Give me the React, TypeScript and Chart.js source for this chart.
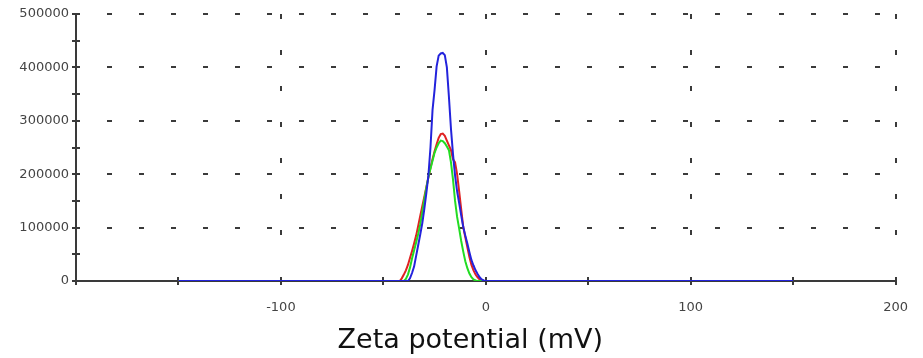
import React, { useEffect, useRef } from "react";
import { Chart, registerables } from "chart.js";

Chart.register(...registerables);

const zeta = [
  -150, -42, -41, -40, -39, -38, -37, -36, -35, -34, -33, -32, -31, -30, -29, -28, -27, -26, -25, -24,
  -23, -22, -21, -20, -19, -18, -17, -16, -15, -14, -13, -12, -11, -10, -9, -8, -7, -6, -5, -4, -3, -2,
  -1, 0, 150,
];

const blueSeries = [
  0, 0, 0, 0, 0, 0, 5000, 15000, 27000, 47000, 67000, 87000, 108000, 135000, 165000, 198000, 250000,
  320000, 358000, 402000, 422000, 426000, 427000, 423000, 400000, 345000, 285000, 237000, 198000,
  168000, 146000, 123000, 101000, 85000, 70000, 54000, 39000, 29000, 20000, 13000, 7000, 3000, 1000,
  0, 0,
];

const redSeries = [
  0, 0, 5000, 12000, 20000, 30000, 43000, 56000, 70000, 85000, 103000, 122000, 140000, 158000, 176000,
  194000, 212000, 228000, 243000, 256000, 268000, 275000, 276000, 272000, 263000, 254000, 245000,
  228000, 222000, 200000, 168000, 134000, 101000, 82000, 63000, 45000, 30000, 20000, 12000, 7000,
  3000, 1000, 0, 0, 0,
];

const greenSeries = [
  0, 0, 0, 0, 4000, 12000, 25000, 42000, 57000, 72000, 88000, 106000, 128000, 153000, 175000, 195000,
  210000, 225000, 240000, 250000, 258000, 263000, 262000, 258000, 252000, 245000, 222000, 190000,
  150000, 120000, 98000, 75000, 55000, 37000, 24000, 14000, 7000, 3000, 1000, 0, 0, 0, 0, 0, 0,
];

const xTickLabels = [-100, 0, 100, 200];
const yTickLabels = [0, 100000, 200000, 300000, 400000, 500000];
const xAxisTitle = "Zeta potential (mV)";

const AXIS = "#3a3a3a";

function vDash(H: number, major: boolean): number[] {
  const arr: number[] = [];
  if (major) {
    let pos = 0;
    while (pos + 5 <= H - 12) {
      arr.push(5, 31);
      pos += 36;
    }
    arr[arr.length - 1] = H - 4 - (pos - 31);
  } else {
    arr.push(0, H - 4);
  }
  arr.push(4, 20);
  return arr;
}

const bottomTitle = {
  id: "bottomTitle",
  afterDraw(chart: any) {
    const { ctx, chartArea } = chart;
    ctx.save();
    ctx.font = '27px "DejaVu Sans"';
    ctx.fillStyle = "#111";
    ctx.textAlign = "center";
    ctx.textBaseline = "alphabetic";
    ctx.fillText(xAxisTitle, (chartArea.left + chartArea.right) / 2 - 15.5, chartArea.bottom + 67);
    ctx.restore();
  },
};

export default function App() {
  const ref = useRef<HTMLCanvasElement | null>(null);

  useEffect(() => {
    if (!ref.current) return;
    const pts = (ys: number[]) => zeta.map((x, i) => ({ x, y: ys[i] }));
    const chart = new Chart(ref.current, {
      type: "line",
      data: {
        datasets: [
          { data: pts(blueSeries), borderColor: "#2323dc", borderWidth: 2, pointRadius: 0, tension: 0 },
          { data: pts(greenSeries), borderColor: "#22dc22", borderWidth: 2, pointRadius: 0, tension: 0 },
          { data: pts(redSeries), borderColor: "#e02222", borderWidth: 2, pointRadius: 0, tension: 0 },
        ],
      },
      plugins: [bottomTitle],
      options: {
        animation: false,
        responsive: false,
        devicePixelRatio: 1,
        layout: { padding: { left: 0, right: 24, top: 14, bottom: 0 } },
        plugins: {
          legend: { display: false },
          tooltip: { enabled: false },
          title: { display: false },
        },
        scales: {
          x: {
            type: "linear",
            min: -200,
            max: 200,
            afterFit: (s: any) => {
              s.height = 77;
            },
            ticks: {
              stepSize: 50,
              autoSkip: false,
              maxRotation: 0,
              padding: 15,
              color: "#444",
              font: { family: "DejaVu Sans", size: 13 },
              callback: (v: any) => (xTickLabels.includes(Number(v)) ? String(v) : ""),
            },
            grid: {
              color: (c: any) => {
                const v = c.tick ? c.tick.value : undefined;
                if (v === undefined || v === -200) return "transparent";
                return AXIS;
              },
              lineWidth: 2,
              tickColor: AXIS,
              tickLength: 4,
              tickWidth: 2,
            },
            border: {
              display: true,
              color: AXIS,
              width: 2,
              dash: (c: any) => {
                const ca = c.chart.chartArea;
                const H = ca ? ca.bottom - ca.top : 267;
                const v = c.tick ? c.tick.value : 0;
                return vDash(H, v % 100 === 0);
              },
            },
          },
          y: {
            min: 0,
            max: 500000,
            afterFit: (s: any) => {
              s.width = 76;
            },
            ticks: {
              stepSize: 50000,
              autoSkip: false,
              padding: 3,
              color: "#444",
              font: { family: "DejaVu Sans", size: 13 },
              callback: (v: any) => (yTickLabels.includes(Number(v)) ? String(v) : ""),
            },
            grid: {
              color: (c: any) => {
                const v = c.tick ? c.tick.value : undefined;
                if (v === undefined || v === 0) return "transparent";
                return AXIS;
              },
              lineWidth: 2,
              tickColor: AXIS,
              tickLength: 4,
              tickWidth: 2,
            },
            border: {
              display: true,
              color: AXIS,
              width: 2,
              dash: (c: any) => {
                const v = c.tick ? c.tick.value : 0;
                return v % 100000 === 0 ? [5, 27] : [3, 3000];
              },
              dashOffset: (c: any) => {
                const v = c.tick ? c.tick.value : 0;
                return v % 100000 === 0 ? 2 : 0;
              },
            },
          },
        },
      },
    });
    return () => chart.destroy();
  }, []);

  return (
    <div style={{ position: "absolute", left: 0, top: 0, width: 923, height: 358, background: "#fff" }}>
      <canvas ref={ref} width={923} height={358} />
    </div>
  );
}
